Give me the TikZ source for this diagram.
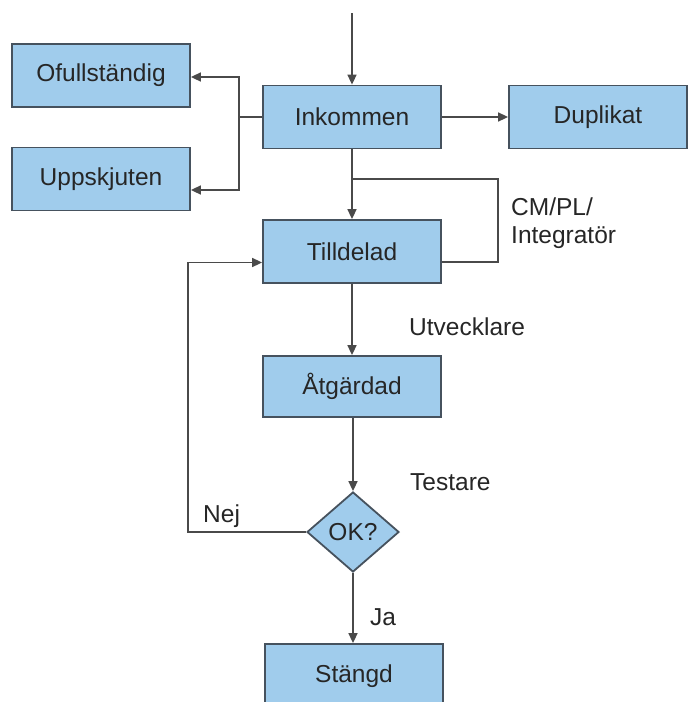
\documentclass[tikz,border=0pt]{standalone}
\usepackage{fontspec}
\setmainfont{Liberation Sans}
\usetikzlibrary{shapes.geometric,arrows.meta}
\definecolor{boxfill}{HTML}{A0CCEC}
\definecolor{boxline}{HTML}{46525E}
\definecolor{conn}{HTML}{4A4A4A}
\begin{document}
\begin{tikzpicture}[x=1pt,y=-1pt,
  font=\fontsize{24.5}{28}\selectfont,
  stbox/.style={draw=boxline,fill=boxfill,line width=1.8pt,minimum width=178pt,minimum height=63pt,inner sep=0pt,text=black!85},
  stdia/.style={diamond,draw=boxline,fill=boxfill,line width=1.8pt,minimum width=92pt,minimum height=80pt,aspect=1.15,inner sep=0pt,text=black!85},
  conline/.style={draw=conn,line width=1.6pt},
  arr/.style={conline,-{Triangle[length=10pt,width=9pt]}},
  lbl/.style={anchor=west,inner sep=0pt,text=black!85}
]
\useasboundingbox (0,0) rectangle (692,702);
\clip (0,0) rectangle (692,702);
\fill[white] (0,0) rectangle (692,702);

\node[stbox] (ofull) at (101,75.5) {Ofullständig};
\node[stbox] (upps) at (101,179) {Uppskjuten};
\node[stbox] (ink) at (352,117) {Inkommen};
\node[stbox] (dup) at (598,117) {Duplikat};
\node[stbox] (till) at (352,251.5) {Tilldelad};
\node[stbox,minimum height=61pt] (atg) at (352,386.5) {Åtgärdad};
\node[stdia] (ok) at (353,532) {OK?};
\node[stbox,minimum height=64pt] (stang) at (354,676) {Stängd};

\coordinate (top) at (352,13);
\coordinate (br) at (239,117);
\coordinate (lp) at (498,179);
\coordinate (lpend) at (352,179);
\coordinate (lf) at (188,532);

\draw[arr] (top) -- (ink.north);
\draw[conline] (ink.west) -- (br);
\draw[arr] (br) |- ([yshift=-1.5pt]ofull.east);
\draw[arr] (br) |- ([yshift=-11pt]upps.east);
\draw[arr] (ink.east) -- (dup.west);
\draw[arr] (ink.south) -- (till.north);
\draw[conline] ([yshift=-10.5pt]till.east) -| (lp) -- (lpend);
\draw[arr] (till.south) -- (atg.north);
\draw[arr] (atg.south -| ok.north) -- (ok.north);
\draw[arr] (ok.west) -- (lf) |- ([yshift=-11pt]till.west);
\draw[arr] (ok.south) -- (ok.south |- stang.north);

\node[lbl,anchor=north west,align=left] (cm) at (511,198) {CM/PL/\\Integratör};
\node[lbl] (utv) at (409,327) {Utvecklare};
\node[lbl] (test) at (410,482) {Testare};
\node[lbl] (nej) at (203,516) {Nej};
\node[lbl] (ja) at (370,617) {Ja};
\end{tikzpicture}
\end{document}
